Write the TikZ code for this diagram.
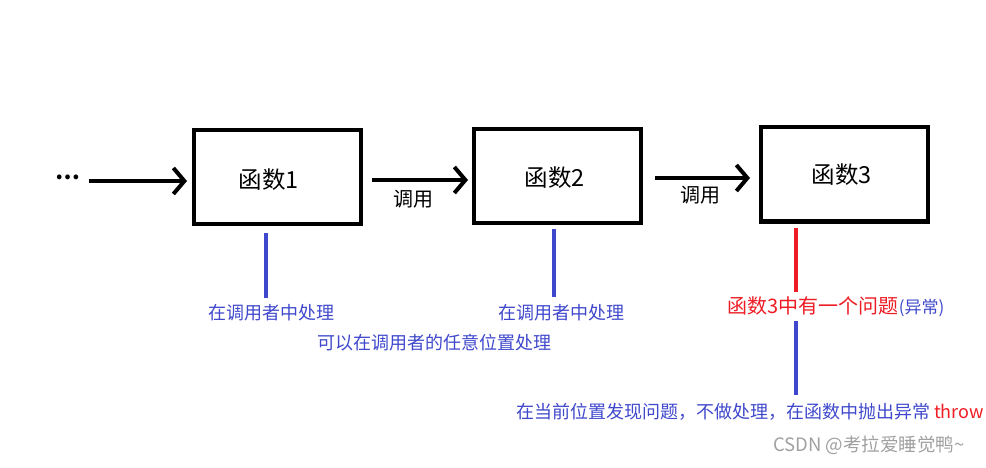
\documentclass[tikz,border=0pt]{standalone}
\usepackage{fontspec}
\setmainfont{Noto Sans CJK SC}
\newfontfamily\cjk{Noto Sans CJK SC}
\usetikzlibrary{arrows.meta}
\definecolor{myblue}{HTML}{3F48CC}
\definecolor{myred}{HTML}{EE1C24}
\definecolor{wmgray}{HTML}{A0A0A0}
\tikzset{
  x=1pt, y=-1pt,
  funcbox/.style={draw=black, line width=4pt, minimum width=167pt, minimum height=94pt, inner sep=0pt},
  boxtxt/.style={font=\cjk\fontsize{23.5}{26}\selectfont, inner sep=0pt},
  callarrow/.style={line width=4pt, -{Straight Barb[length=11pt,width=26pt,line width=4pt]}},
  bar/.style={line width=4pt},
  lbl/.style={font=\cjk\fontsize{18}{20}\selectfont, inner sep=0pt, anchor=center},
  calllbl/.style={font=\cjk\fontsize{20}{22}\selectfont, inner sep=0pt}
}
\begin{document}
\begin{tikzpicture}
\useasboundingbox (0,0) rectangle (986,468);
% boxes
\node[funcbox] (f1) at (277.5,177) {};
\node[funcbox] (f2) at (557.5,176) {};
\node[funcbox] (f3) at (844,174.5) {};
\node[boxtxt] (t1) at (269,180) {函数1};
\node[boxtxt] (t2) at (555,178) {函数2};
\node[boxtxt] (t3) at (842,175) {函数3};
% dots
\node[font=\fontsize{22}{24}\selectfont, inner sep=0pt] (dots) at (68,177) {\textbf{…}};
% arrow coordinates
\coordinate (a1s) at (89,181);
\coordinate (a1e) at (187,181);
\coordinate (a2s) at (372,180);
\coordinate (a2e) at (468,180);
\coordinate (a3s) at (655,178);
\coordinate (a3e) at (750,178);
\draw[callarrow] (a1s) -- (a1e);
\draw[callarrow] (a2s) -- (a2e);
\draw[callarrow] (a3s) -- (a3e);
\node[calllbl] (c1) at (413,199) {调用};
\node[calllbl] (c2) at (700,195) {调用};
% vertical bars
\coordinate (b1t) at (266,233); \coordinate (b1b) at (266,298);
\coordinate (b2t) at (554,229); \coordinate (b2b) at (554,297);
\coordinate (b3t) at (796,228); \coordinate (b3b) at (796,292);
\coordinate (b4t) at (796,321); \coordinate (b4b) at (796,395);
\draw[bar, myblue] (b1t) -- (b1b);
\draw[bar, myblue] (b2t) -- (b2b);
\draw[bar, myred] (b3t) -- (b3b);
\draw[bar, myblue] (b4t) -- (b4b);
% labels
\node[lbl, text=myblue] (l1) at (271,313) {在调用者中处理};
\node[lbl, text=myblue] (l2) at (561,313) {在调用者中处理};
\node[lbl, text=myblue] (l3) at (434,343) {可以在调用者的任意位置处理};
\node[lbl] (l4) at (836,307) {\textcolor{myred}{\fontsize{20}{22}\selectfont 函数3中有一个问题}\textcolor{myblue}{\fontsize{17}{20}\selectfont (异常)}};
\node[lbl] (l5) at (750,412) {\textcolor{myblue}{在当前位置发现问题，不做处理，在函数中抛出异常} \textcolor{myred}{throw}};
\node[font=\cjk\fontsize{18.5}{20}\selectfont, text=wmgray, inner sep=0pt] (wm) at (869,445) {CSDN @考拉爱睡觉鸭\textasciitilde};
\end{tikzpicture}
\end{document}
